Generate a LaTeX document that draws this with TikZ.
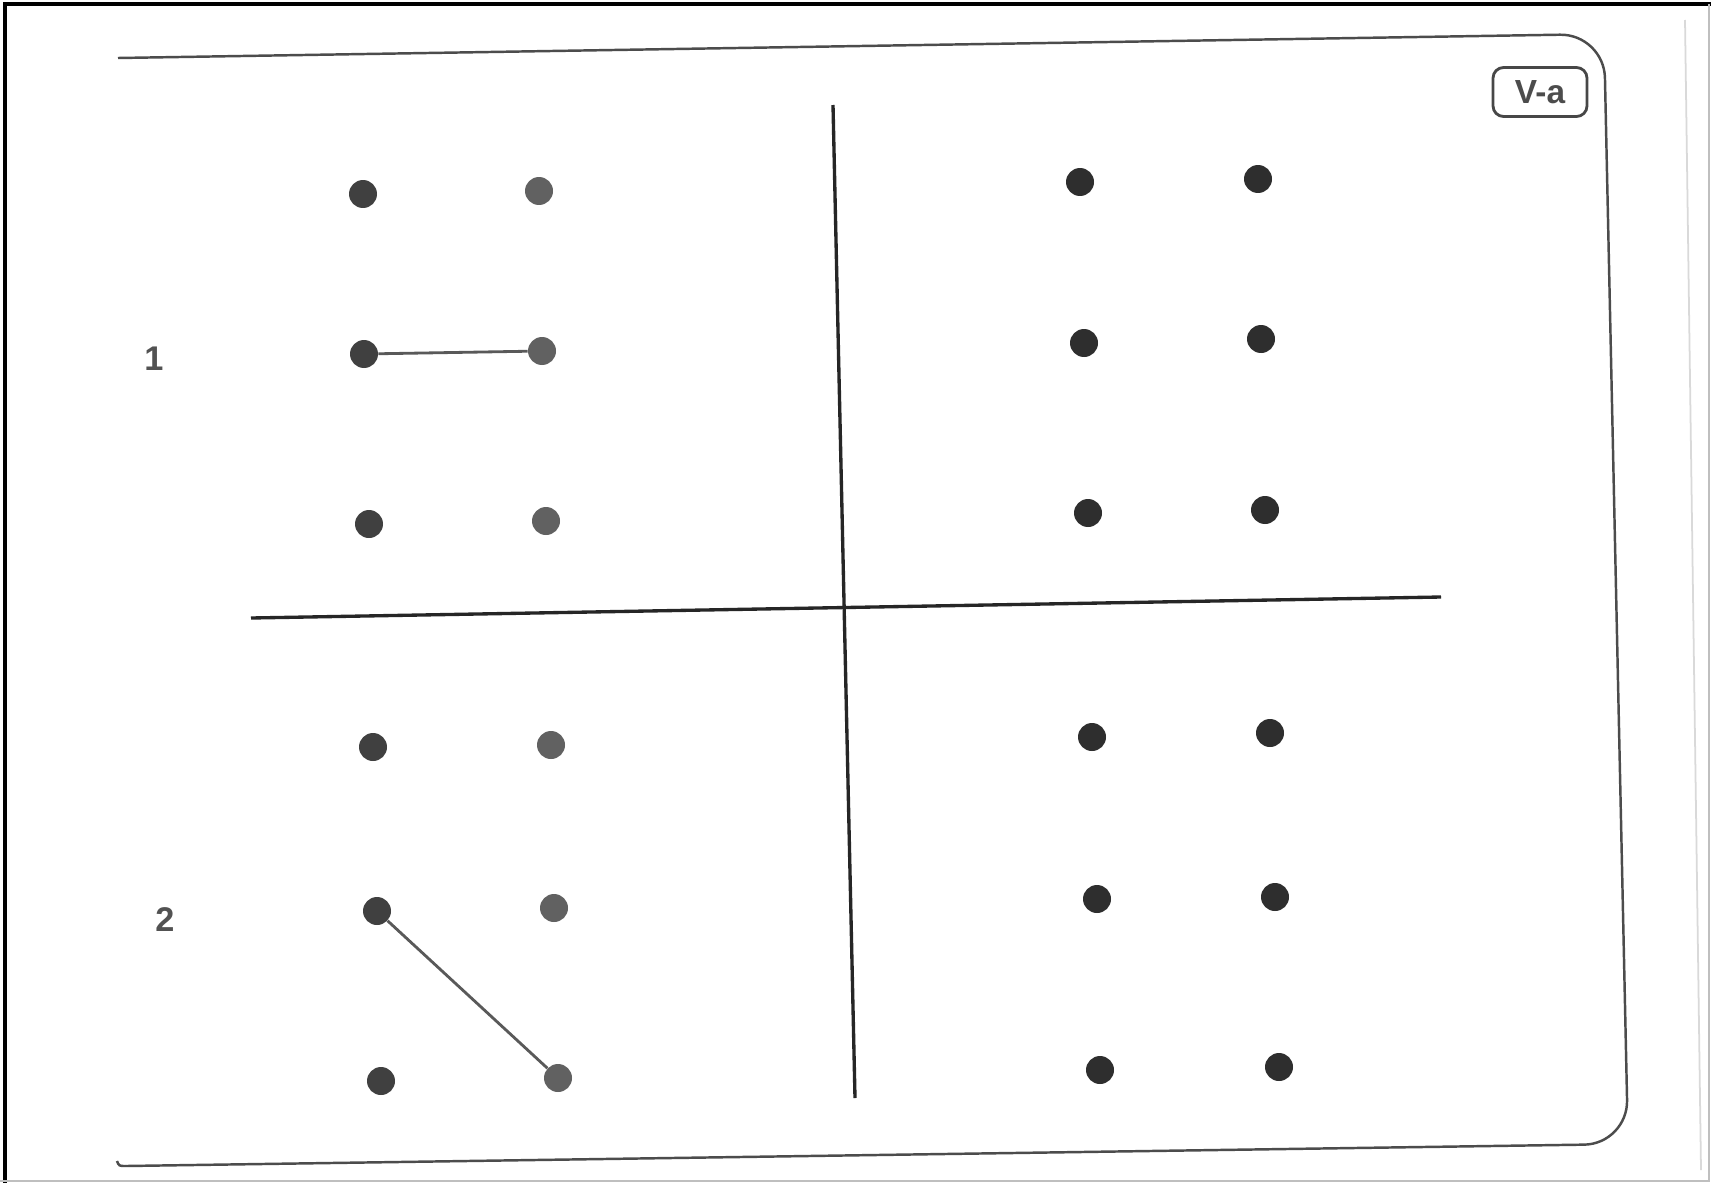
\documentclass[tikz,border=0pt]{standalone}
\usepackage{fontspec}
\setmainfont{Liberation Sans}
\begin{document}
\begin{tikzpicture}[x=0.02cm,y=-0.02cm,
  dot/.style={circle,inner sep=0pt,minimum size=0.56cm},
  dotA/.style={dot,fill=black!75},
  dotB/.style={dot,fill=black!62},
  dotC/.style={dot,fill=black!82},
  link/.style={draw=black!65,line width=1.6pt},
  divider/.style={draw=black!85,line width=1.9pt},
  frameline/.style={draw=black!70,line width=1.4pt},
  lbl/.style={font=\bfseries\fontsize{19.5}{23}\selectfont,text=black!68}]
\useasboundingbox (0,0) rectangle (1711,1183);
\fill[white] (0,0) rectangle (1711,1183);
% page border of the scan
\draw[black,line width=1.8pt] (5,1183) -- (5,4) -- (1711,4);
\draw[black!25,line width=0.8pt] (1709,4) -- (1709,1181) -- (0,1181);
\draw[black!15,line width=1pt] (1685,20) -- (1701,1170);
% card frame
\draw[frameline,rounded corners=25pt] (118,58) -- (1604,34) -- (1628,1144) -- (126,1166);
\draw[frameline] (126,1166) .. controls (119,1166) .. (117,1161);
% tag
\node[draw=black!72,line width=1.6pt,rounded corners=6pt,minimum width=1.88cm,minimum height=0.98cm,inner sep=0pt,font=\bfseries\fontsize{19}{22}\selectfont,text=black!70] (tag) at (1540,92) {V-a};
% dividers
\coordinate (vt) at (833,105);
\coordinate (vb) at (855,1098);
\coordinate (hl) at (251,618);
\coordinate (hr) at (1441,597);
\draw[divider] (vt) -- (vb);
\draw[divider] (hl) -- (hr);
% labels
\node[lbl] (n1) at (154,359) {1};
\node[lbl] (n2) at (165,920) {2};
% top-left dots
\node[dotA] (a11) at (363,194) {};
\node[dotB] (a12) at (539,191) {};
\node[dotA] (a21) at (364,354) {};
\node[dotB] (a22) at (542,351) {};
\node[dotA] (a31) at (369,524) {};
\node[dotB] (a32) at (546,521) {};
% top-right dots
\node[dotC] (b11) at (1080,182) {};
\node[dotC] (b12) at (1258,179) {};
\node[dotC] (b21) at (1084,343) {};
\node[dotC] (b22) at (1261,339) {};
\node[dotC] (b31) at (1088,513) {};
\node[dotC] (b32) at (1265,510) {};
% bottom-left dots
\node[dotA] (c11) at (373,747) {};
\node[dotB] (c12) at (551,745) {};
\node[dotA] (c21) at (377,911) {};
\node[dotB] (c22) at (554,908) {};
\node[dotA] (c31) at (381,1081) {};
\node[dotB] (c32) at (558,1078) {};
% bottom-right dots
\node[dotC] (d11) at (1092,737) {};
\node[dotC] (d12) at (1270,733) {};
\node[dotC] (d21) at (1097,899) {};
\node[dotC] (d22) at (1275,897) {};
\node[dotC] (d31) at (1100,1070) {};
\node[dotC] (d32) at (1279,1067) {};
% connectors
\draw[link] (a21) -- (a22);
\draw[link] (c21) -- (c32);
\end{tikzpicture}
\end{document}
